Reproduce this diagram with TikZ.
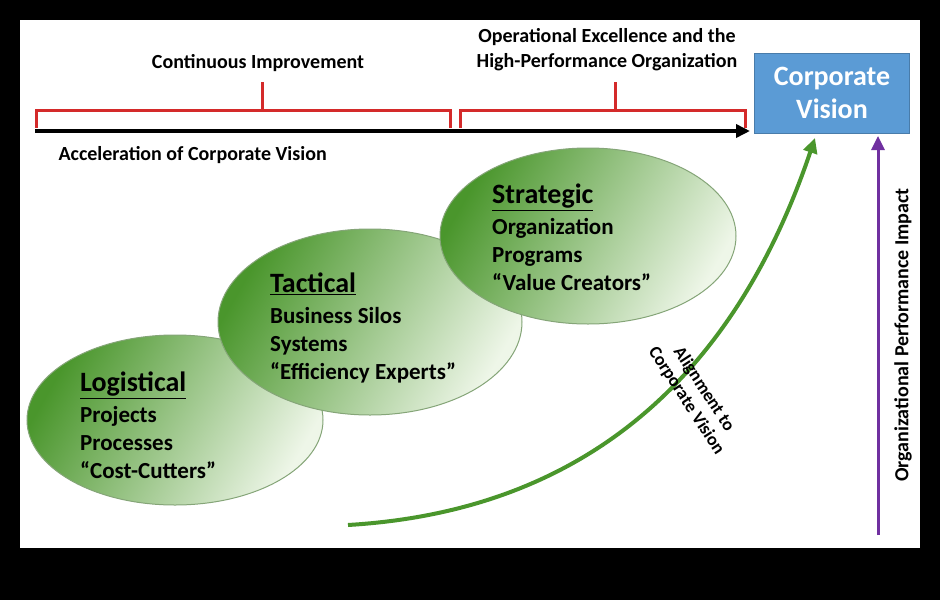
\documentclass[tikz,border=0pt]{standalone}
\usepackage{fontspec}
\setmainfont{Carlito}
\usetikzlibrary{arrows.meta,shapes.geometric}
\definecolor{brc}{HTML}{D42A2A}
\definecolor{boxb}{HTML}{5B9BD5}
\definecolor{gdark}{HTML}{4A962C}
\definecolor{glight}{HTML}{EEF6E8}
\definecolor{purp}{HTML}{7030A0}
\begin{document}
\begin{tikzpicture}[x=1pt,y=-1pt,
  brace/.style={draw=brc,line width=3pt},
  lbl/.style={font=\bfseries\fontsize{20}{25}\selectfont,align=center},
  ell/.style={draw=gdark!70!black!60,line width=1pt,left color=glight,right color=gdark,shading angle=-120},
  etext/.style={font=\bfseries\fontsize{23}{28}\selectfont,align=left,anchor=north west,inner sep=0pt}]
\useasboundingbox (0,0) rectangle (940,600);
\fill[black] (0,0) rectangle (940,600);
\fill[white] (20,20) rectangle (920,548);
% braces
\draw[brace] (36,128) -- (36,110) -- (450,110) -- (450,128);
\draw[brace] (262,110) -- (262,82);
\draw[brace] (460,128) -- (460,110) -- (745,110) -- (745,128);
\draw[brace] (615,110) -- (615,82);
\node[lbl] (ci) at (258,63) {Continuous Improvement};
\node[lbl] (oe) at (607,50) {Operational Excellence and the\\High-Performance Organization};
\coordinate (as) at (35,131);
\coordinate (ae) at (750,131);
\draw[line width=4pt,-{Triangle[length=14pt,width=13pt]}] (as) -- (ae);
\node[lbl,anchor=west] (acc) at (55,155) {Acceleration of Corporate Vision};
\node[fill=boxb,draw=boxb!80!black,minimum width=155pt,minimum height=80pt,text=white,font=\bfseries\fontsize{28}{33}\selectfont,align=center] (cv) at (832,93) {Corporate\\Vision};
% ellipses
\node[ell,ellipse,minimum width=296pt,minimum height=170pt] (lo) at (175,420) {};
\node[ell,ellipse,minimum width=304pt,minimum height=186pt] (ta) at (370,322) {};
\node[ell,ellipse,minimum width=296pt,minimum height=176pt] (st) at (588,236) {};
\node[etext] (lot) at (80,372) {{\fontsize{28}{30}\selectfont\underline{Logistical}}\\[3pt]Projects\\Processes\\“Cost-Cutters”};
\node[etext] (tat) at (270,273) {{\fontsize{28}{30}\selectfont\underline{Tactical}}\\[3pt]Business Silos\\Systems\\“Efficiency Experts”};
\node[etext] (stt) at (492,184) {{\fontsize{28}{30}\selectfont\underline{Strategic}}\\[3pt]Organization\\Programs\\“Value Creators”};
% arrows
\coordinate (gs) at (348,525);
\coordinate (ge) at (815,138);
\draw[gdark,line width=4pt,-{Triangle[length=15pt,width=14pt]}] (gs) .. controls (600,510) and (740,360) .. (ge);
\coordinate (ps) at (878,535);
\coordinate (pe) at (878,136);
\draw[purp,line width=3pt,-{Triangle[length=14pt,width=13pt]}] (ps) -- (pe);
\node[lbl,rotate=90] (opi) at (903,335) {Organizational Performance Impact};
\node[lbl,rotate=-57,font=\bfseries\fontsize{18}{21}\selectfont] (al) at (695,395) {Alignment to\\Corporate Vision};
\end{tikzpicture}
\end{document}
